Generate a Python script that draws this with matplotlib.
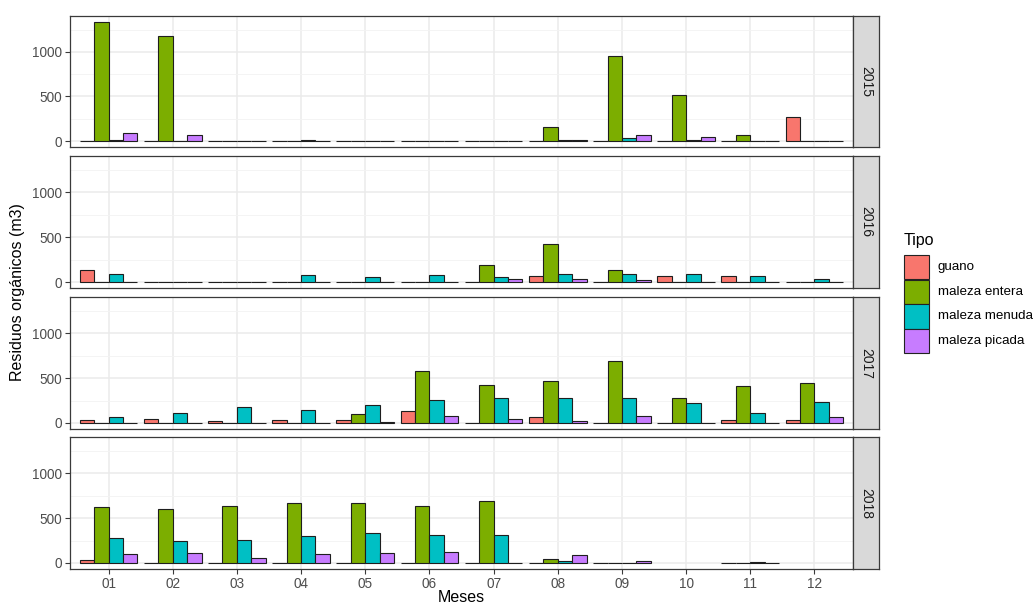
import numpy as np
import matplotlib
matplotlib.use("Agg")
import matplotlib.pyplot as plt
from matplotlib.patches import Rectangle

plt.rcParams['font.family'] = ['Liberation Sans', 'DejaVu Sans']

months = ["01", "02", "03", "04", "05", "06", "07", "08", "09", "10", "11", "12"]
years = ["2015", "2016", "2017", "2018"]
tipos = ["guano", "maleza entera", "maleza menuda", "maleza picada"]
colors = ["#F8766D", "#7CAE00", "#00BFC4", "#C77CFF"]

# Monthly volumes (m3) per type; None = no record for that month
guano_2015 = [0, 0, 0, 0, 0, 0, 0, 0, 0, 0, 0, 269]
entera_2015 = [1336, 1177, 0, 0, 0, 0, 0, 159, 956, 520, 63, 0]
menuda_2015 = [8, 0, 0, 15, 0, 0, 0, 8, 30, 12, 0, 0]
picada_2015 = [85, 70, 0, 0, 0, 0, 0, 8, 63, 44, 5, 0]

guano_2016 = [137, 0, 0, 0, 0, 0, 0, 63, 0, 63, 63, 0]
entera_2016 = [0, 0, 0, 0, 0, 0, 185, 418, 137, 0, 0, 0]
menuda_2016 = [85, 0, 0, 81, 59, 78, 59, 93, 93, 89, 63, 37]
picada_2016 = [0, 0, 0, 0, 0, 0, 37, 37, 22, 0, 0, 0]

guano_2017 = [33, 48, 18, 33, 33, 130, 0, 67, 0, 0, 37, 37]
entera_2017 = [0, 0, 0, 0, 96, 574, 419, 470, 689, 274, 411, 444]
menuda_2017 = [63, 115, 174, 144, 200, 252, 274, 278, 274, 219, 111, 233]
picada_2017 = [0, 0, 0, 0, 15, 78, 41, 19, 78, 0, 0, 63]

guano_2018 = [37, 0, 0, 0, 0, 0, 0, 0, 0, None, 0, None]
entera_2018 = [622, 604, 637, 670, 670, 637, 685, 44, 0, None, 0, None]
menuda_2018 = [274, 244, 259, 296, 337, 315, 315, 26, 0, None, 10, None]
picada_2018 = [104, 115, 59, 96, 111, 122, 0, 89, 22, None, 0, None]

data = {
    "2015": [guano_2015, entera_2015, menuda_2015, picada_2015],
    "2016": [guano_2016, entera_2016, menuda_2016, picada_2016],
    "2017": [guano_2017, entera_2017, menuda_2017, picada_2017],
    "2018": [guano_2018, entera_2018, menuda_2018, picada_2018],
}

W, H = 1033, 603
fig = plt.figure(figsize=(W / 100, H / 100), dpi=100)

panel_left, panel_right = 70, 853
strip_right = 879
panel_rows = [(16, 147), (156, 288), (297, 429), (437, 569)]

ymax = 1336
ylim = (-0.05 * ymax, 1.05 * ymax)
x = np.arange(len(months))
bw = 0.9 / 4

border = "#3A3A3A"
grid_c = "#EBEBEB"

for i, (yr, (top, bot)) in enumerate(zip(years, panel_rows)):
    ax = fig.add_axes([panel_left / W, 1 - bot / H,
                       (panel_right - panel_left) / W, (bot - top) / H])
    ax.set_xlim(-0.6, len(months) - 1 + 0.6)
    ax.set_ylim(*ylim)
    ax.set_yticks([0, 500, 1000])
    ax.set_yticks([250, 750, 1250], minor=True)
    ax.set_xticks(x)
    ax.grid(True, which="major", color=grid_c, linewidth=1.1, zorder=0)
    ax.grid(True, which="minor", axis="y", color="#F3F3F3", linewidth=0.6, zorder=0)
    ax.set_axisbelow(True)
    for series, col, k in zip(data[yr], colors, range(4)):
        xs = [xi + (k - 1.5) * bw for xi, v in zip(x, series) if v is not None]
        vs = [v for v in series if v is not None]
        ax.bar(xs, vs, width=bw, color=col, edgecolor="#1E1E1E",
               linewidth=0.8, zorder=2)
    for s in ax.spines.values():
        s.set_color(border)
        s.set_linewidth(0.9)
    ax.tick_params(axis="both", which="major", length=3.5, width=0.8,
                   color=border, labelcolor="#4D4D4D", labelsize=9.8, pad=2)
    ax.tick_params(axis="y", which="minor", length=0)
    if i < 3:
        ax.tick_params(axis="x", labelbottom=False, length=0)
    else:
        ax.set_xticklabels(months)

    # facet strip on the right
    sax = fig.add_axes([panel_right / W, 1 - bot / H,
                        (strip_right - panel_right) / W, (bot - top) / H])
    sax.set_xticks([])
    sax.set_yticks([])
    sax.set_facecolor("#D9D9D9")
    for s in sax.spines.values():
        s.set_color(border)
        s.set_linewidth(0.9)
    sax.text(0.5, 0.5, yr, rotation=-90, ha="center", va="center",
             fontsize=10, color="#1A1A1A", transform=sax.transAxes)

fig.text(18 / W, 1 - 292 / H, "Residuos orgánicos (m3)", rotation=90,
         ha="center", va="center", fontsize=11.5, color="black")
fig.text(461 / W, 1 - 597 / H, "Meses", ha="center", va="center",
         fontsize=11.5, color="black")

# legend
fig.text(904 / W, 1 - 240 / H, "Tipo", ha="left", va="center",
         fontsize=11.5, color="black")
key_x, key_w, key_h, key_top = 904, 25, 24.5, 255
for k, (lab, col) in enumerate(zip(tipos, colors)):
    y0 = key_top + k * key_h
    fig.patches.append(Rectangle((key_x / W, 1 - (y0 + key_h) / H),
                                 key_w / W, key_h / H, facecolor=col,
                                 edgecolor="#222222", linewidth=0.8,
                                 transform=fig.transFigure, figure=fig))
    fig.text(938 / W, 1 - (y0 + key_h / 2) / H, lab, ha="left", va="center",
             fontsize=9.6, color="black")

fig.savefig("out.png", dpi=100, facecolor="white")
